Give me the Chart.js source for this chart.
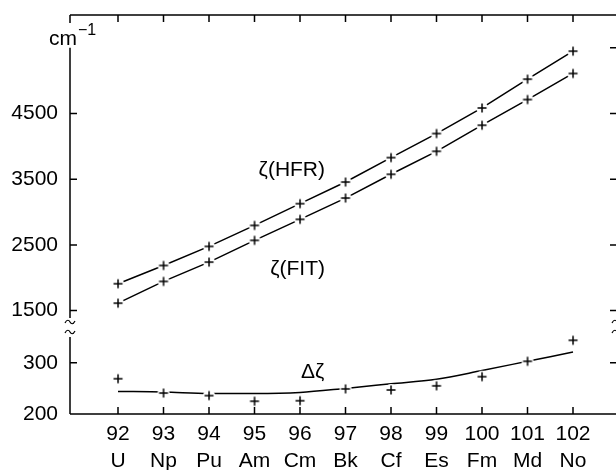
<!DOCTYPE html>
<html>
<head>
<meta charset="utf-8">
<script src="https://cdn.jsdelivr.net/npm/chart.js@4.4.1/dist/chart.umd.min.js"></script>
<style>
  html, body { margin: 0; padding: 0; background: #fff; overflow: hidden; }
  #wrap { width: 630px; height: 470px; }
</style>
</head>
<body>
<div id="wrap"><canvas id="zetaChart" width="630" height="470"></canvas></div>
<script>
// spin-orbit constants of the actinides, cm-1
const atomicNumbers = [92, 93, 94, 95, 96, 97, 98, 99, 100, 101, 102];
const elements = ['U', 'Np', 'Pu', 'Am', 'Cm', 'Bk', 'Cf', 'Es', 'Fm', 'Md', 'No'];
const zetaHFR = [1909, 2187, 2477, 2797, 3128, 3457, 3829, 4195, 4585, 5023, 5450];
const zetaFIT = [1613, 1944, 2238, 2569, 2889, 3213, 3575, 3925, 4322, 4713, 5110];
const deltaZeta = [269, 241, 236, 225, 226, 249, 247, 255, 273, 303, 344];
const deltaCurve = [244, 243, 240, 240, 242, 250, 259, 268, 285, 303, 321];
const upperTicks = [1500, 2500, 3500, 4500];
const lowerTicks = [200, 300];

const FONT = "'Liberation Sans', Arial, Helvetica, sans-serif";
const toPoints = ys => atomicNumbers.map((x, i) => ({ x, y: ys[i] }));

// "+" marker on a white disc, so lines stop short of it
function crossMarker() {
  const c = document.createElement('canvas');
  c.width = 16; c.height = 16;
  const g = c.getContext('2d');
  g.fillStyle = '#fff';
  g.beginPath(); g.arc(8, 8, 6, 0, Math.PI * 2); g.fill();
  g.strokeStyle = '#000'; g.lineWidth = 1.5;
  g.beginPath();
  g.moveTo(3.5, 8); g.lineTo(12.5, 8);
  g.moveTo(8, 3.5); g.lineTo(8, 12.5);
  g.stroke();
  return c;
}
const marker = crossMarker();

function tilde(ctx, x, y) {
  ctx.moveTo(x - 5, y + 1);
  ctx.bezierCurveTo(x - 3, y - 3, x - 1, y - 2, x, y);
  ctx.bezierCurveTo(x + 1, y + 2, x + 3, y + 3, x + 5, y - 1);
}

function noPadding(s) {
  s.paddingTop = 0; s.paddingBottom = 0;
  s.paddingLeft = 0; s.paddingRight = 0;
}

const framePlugin = {
  id: 'frame',
  afterDraw(chart) {
    const { ctx, chartArea: a, scales: { x, yHigh, yLow } } = chart;
    const L = a.left, R = a.right, T = a.top, B = a.bottom;
    const brk = yHigh.bottom;
    const top5500 = yHigh.getPixelForValue(5500);
    ctx.save();
    ctx.strokeStyle = '#000';
    ctx.lineWidth = 1.5;
    ctx.beginPath();
    ctx.moveTo(L, T); ctx.lineTo(R, T);
    ctx.moveTo(L, B); ctx.lineTo(R, B);
    ctx.moveTo(L, T); ctx.lineTo(L, T + 8);
    ctx.moveTo(L, top5500); ctx.lineTo(L, brk - 9);
    ctx.moveTo(L, brk + 10); ctx.lineTo(L, B);
    ctx.moveTo(R, T); ctx.lineTo(R, brk - 9);
    ctx.moveTo(R, brk + 10); ctx.lineTo(R, B);
    atomicNumbers.forEach(v => {
      const px = x.getPixelForValue(v);
      ctx.moveTo(px, B); ctx.lineTo(px, B - 7);
      ctx.moveTo(px, T); ctx.lineTo(px, T + 7);
    });
    upperTicks.concat([5500]).forEach(v => {
      const py = yHigh.getPixelForValue(v);
      if (v !== 5500) { ctx.moveTo(L, py); ctx.lineTo(L + 7, py); }
      ctx.moveTo(R, py); ctx.lineTo(R - 7, py);
    });
    lowerTicks.filter(v => v > 200).forEach(v => {
      const py = yLow.getPixelForValue(v);
      ctx.moveTo(L, py); ctx.lineTo(L + 7, py);
      ctx.moveTo(R, py); ctx.lineTo(R - 7, py);
    });
    ctx.stroke();

    ctx.lineWidth = 1.2;
    ctx.beginPath();
    [L, R].forEach(px => { tilde(ctx, px, brk - 5); tilde(ctx, px, brk + 5); });
    ctx.stroke();

    // text labels
    ctx.fillStyle = '#000';
    ctx.textBaseline = 'alphabetic';
    ctx.font = '21px ' + FONT;
    ctx.textAlign = 'right';
    ctx.fillText('\u03B6(HFR)', x.getPixelForValue(96.55), yHigh.getPixelForValue(3544));
    ctx.fillText('\u03B6(FIT)', x.getPixelForValue(96.55), yHigh.getPixelForValue(2035));
    ctx.textAlign = 'left';
    ctx.fillText('\u0394\u03B6', x.getPixelForValue(96.02), yLow.getPixelForValue(270));
    const ux = L - 21, uy = top5500 - 3;
    ctx.fillText('cm', ux, uy);
    const w = ctx.measureText('cm').width;
    ctx.font = '16px ' + FONT;
    ctx.fillText('\u22121', ux + w + 1, uy - 10);
    ctx.restore();
  }
};

const yCommon = {
  type: 'linear',
  position: 'left',
  stack: 'zeta',
  grid: { display: false, drawTicks: false },
  border: { display: false },
  afterFit: s => { s.width = 70; noPadding(s); },
  ticks: {
    color: '#000', padding: 12, font: { family: FONT, size: 21 },
    callback: v => String(v)
  }
};

new Chart(document.getElementById('zetaChart'), {
  type: 'line',
  data: {
    datasets: [
      {
        label: '\u03B6(HFR)', data: toPoints(zetaHFR), yAxisID: 'yHigh',
        borderColor: '#000', borderWidth: 1.5, tension: 0,
        pointStyle: marker, pointRadius: 5, order: 0
      },
      {
        label: '\u03B6(FIT)', data: toPoints(zetaFIT), yAxisID: 'yHigh',
        borderColor: '#000', borderWidth: 1.5, tension: 0,
        pointStyle: marker, pointRadius: 5, order: 0
      },
      {
        label: '\u0394\u03B6 fit', data: toPoints(deltaCurve), yAxisID: 'yLow',
        borderColor: '#000', borderWidth: 1.5, cubicInterpolationMode: 'monotone',
        pointRadius: 0, order: 2
      },
      {
        label: '\u0394\u03B6', data: toPoints(deltaZeta), yAxisID: 'yLow',
        showLine: false, pointStyle: marker, pointRadius: 5, order: 1
      }
    ]
  },
  options: {
    responsive: false,
    animation: false,
    layout: { padding: { top: 15, right: 13, left: 0, bottom: 0 } },
    plugins: { legend: { display: false }, tooltip: { enabled: false } },
    scales: {
      x: {
        type: 'linear', min: 90.945, max: 102.967,
        grid: { display: false, drawTicks: false },
        border: { display: false },
        afterBuildTicks: s => { s.ticks = atomicNumbers.map(v => ({ value: v })); },
        afterFit: s => { s.height = 56; noPadding(s); },
        ticks: {
          color: '#000', padding: 7, maxRotation: 0, autoSkip: false,
          font: { family: FONT, size: 21, lineHeight: 1.28 },
          callback: v => {
            const i = atomicNumbers.indexOf(v);
            return i < 0 ? '' : [String(v), elements[i]];
          }
        }
      },
      yLow: Object.assign({}, yCommon, {
        min: 200, max: 370, stackWeight: 87,
        afterBuildTicks: s => { s.ticks = lowerTicks.map(v => ({ value: v })); }
      }),
      yHigh: Object.assign({}, yCommon, {
        min: 1250, max: 6000, stackWeight: 312,
        afterBuildTicks: s => { s.ticks = upperTicks.map(v => ({ value: v })); }
      })
    }
  },
  plugins: [framePlugin]
});
</script>
</body>
</html>
